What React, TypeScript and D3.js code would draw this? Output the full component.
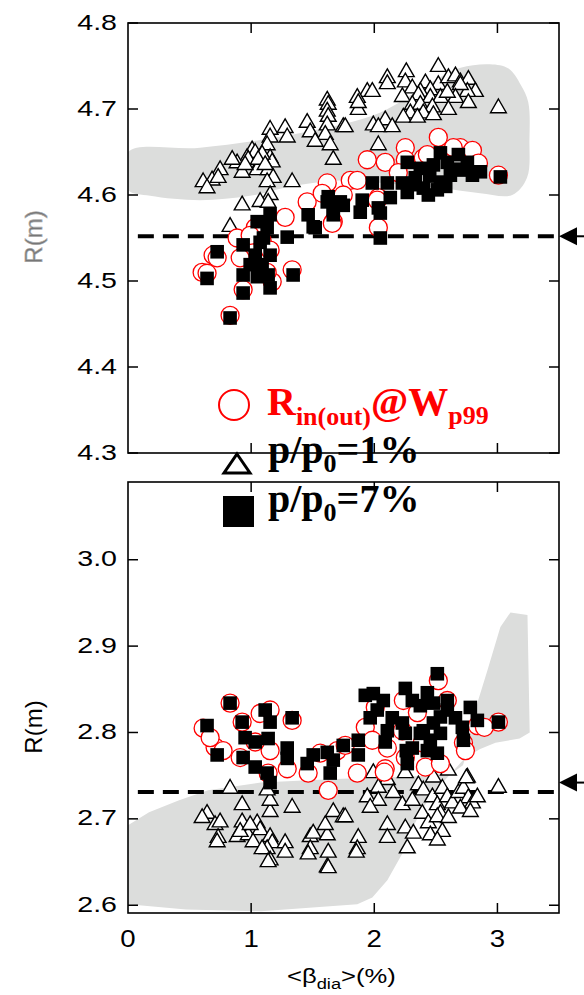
import * as d3 from 'd3'

type Pt = [number, number]

// axes
const xTicks = [0, 1, 2, 3]
const topTicks = [4.3, 4.4, 4.5, 4.6, 4.7, 4.8]
const botTicks = [2.6, 2.7, 2.8, 2.9, 3.0]

// dashed reference levels and arrow levels (R in m)
const topLevel = 4.552
const botLevel = 2.731
const topArrowLevel = 4.552
const botArrowLevel = 2.742

// grey operating regions
const topBand: Pt[] = [
  [0, 4.65], [0.585, 4.655], [1.4, 4.672], [2.05, 4.696], [2.46, 4.731], [2.7, 4.748],
  [2.94, 4.752], [3.09, 4.747], [3.19, 4.728], [3.25, 4.708], [3.26, 4.664], [3.24, 4.62],
  [3.12, 4.6], [2.86, 4.602], [2.54, 4.608], [2.21, 4.612], [1.72, 4.617], [1.32, 4.61],
  [0.99, 4.599], [0.585, 4.594], [0.18, 4.599], [0, 4.606],
]
const botBand: Pt[] = [
  [0, 2.6925], [0.171, 2.7077], [0.415, 2.7214], [0.65, 2.733], [1.081, 2.742], [1.683, 2.746],
  [2.374, 2.7497], [2.642, 2.754], [2.72, 2.762], [2.77, 2.785], [2.837, 2.834], [2.919, 2.872],
  [3.024, 2.922], [3.106, 2.939], [3.244, 2.936], [3.262, 2.8], [3.18, 2.793], [2.984, 2.788],
  [2.86, 2.781], [2.74, 2.771], [2.593, 2.748], [2.48, 2.73], [2.382, 2.71], [2.3, 2.686],
  [2.228, 2.66], [2.106, 2.629], [1.984, 2.609], [1.862, 2.601], [1.081, 2.593], [0.472, 2.595],
  [0, 2.601],
]

// p/p0 = 1%
const topTri: Pt[] = [
  [1.618, 4.71], [1.626, 4.705], [1.618, 4.697], [1.626, 4.691], [1.618, 4.681], [1.455, 4.684],
  [1.48, 4.673], [1.602, 4.67], [1.52, 4.662], [1.642, 4.658], [1.748, 4.679], [1.667, 4.641],
  [1.154, 4.676], [1.276, 4.678], [1.293, 4.667], [1.154, 4.667], [1.13, 4.658], [1.008, 4.652],
  [1.033, 4.649], [0.967, 4.643], [0.886, 4.637], [0.976, 4.641], [1.073, 4.637], [1.154, 4.643],
  [1.171, 4.638], [0.927, 4.626], [1.049, 4.629], [1.138, 4.629], [1.179, 4.62], [1.13, 4.615],
  [1.333, 4.615], [1.154, 4.6], [1.073, 4.592], [0.927, 4.588], [0.829, 4.563], [0.748, 4.629],
  [0.683, 4.617], [0.61, 4.615], [0.642, 4.608], [0.732, 4.62], [1.138, 4.591], [1.089, 4.647],
  [1.057, 4.641], [0.951, 4.635], [1.114, 4.635], [0.846, 4.641],
  [2.52, 4.749], [2.26, 4.743], [2.106, 4.736], [2.106, 4.729], [2.252, 4.731], [2.415, 4.73],
  [2.52, 4.728], [2.602, 4.736], [2.659, 4.738], [2.699, 4.731], [2.764, 4.734], [2.821, 4.72],
  [2.756, 4.72], [2.699, 4.728], [2.455, 4.722], [2.374, 4.72], [2.309, 4.724], [2.358, 4.716],
  [2.455, 4.713], [2.537, 4.713], [2.659, 4.713], [2.764, 4.707], [2.593, 4.719], [3.008, 4.701],
  [1.943, 4.72], [1.984, 4.72], [1.862, 4.713], [1.87, 4.699], [2.228, 4.714], [2.309, 4.705],
  [2.374, 4.705], [2.472, 4.702], [2.602, 4.699], [2.293, 4.695], [2.398, 4.695], [2.48, 4.693],
  [2.236, 4.69], [2.35, 4.69], [1.992, 4.681], [2.089, 4.687], [2.033, 4.679], [2.146, 4.679],
  [1.764, 4.679], [2.033, 4.658], [1.87, 4.707],
]
// R_in(out) @ W_p99
const topCirc: Pt[] = [
  [1.805, 4.617], [1.618, 4.614], [1.455, 4.592], [1.577, 4.602], [1.748, 4.6], [1.276, 4.574],
  [1.667, 4.569], [1.033, 4.562], [0.886, 4.55], [0.691, 4.53], [0.602, 4.51], [0.935, 4.49],
  [1.333, 4.513], [0.829, 4.46], [1.171, 4.499], [1.13, 4.51], [0.911, 4.527], [0.724, 4.527],
  [0.642, 4.509], [2.52, 4.667], [2.252, 4.655], [2.089, 4.638], [1.943, 4.641], [1.862, 4.617],
  [2.033, 4.597], [2.252, 4.641], [2.398, 4.643], [2.699, 4.655], [2.797, 4.652], [2.846, 4.637],
  [3.008, 4.623], [2.033, 4.562], [2.195, 4.626], [2.642, 4.655], [2.431, 4.647], [1.659, 4.567],
  [2.024, 4.594], [1.089, 4.547], [0.992, 4.553], [1.154, 4.536],
]
// p/p0 = 7%
const topSq: Pt[] = [
  [0.829, 4.457], [0.935, 4.486], [0.642, 4.503], [0.724, 4.534], [0.935, 4.507], [1.154, 4.492],
  [1.138, 4.507], [1.154, 4.53], [1.073, 4.545], [0.935, 4.542], [1.049, 4.569], [1.154, 4.577],
  [1.293, 4.551], [1.341, 4.507], [1.463, 4.577], [1.52, 4.562], [1.618, 4.592], [1.667, 4.577],
  [1.748, 4.588], [1.13, 4.562], [0.992, 4.519], [2.537, 4.649], [2.683, 4.647], [3.024, 4.621],
  [2.049, 4.55], [1.886, 4.58], [1.724, 4.592], [2.033, 4.585], [2.106, 4.614], [1.984, 4.614],
  [2.228, 4.614], [2.268, 4.638], [2.374, 4.631], [2.439, 4.6], [2.537, 4.615], [2.618, 4.623],
  [2.699, 4.629], [2.797, 4.623], [2.862, 4.627], [2.398, 4.608], [2.268, 4.603], [2.13, 4.597],
  [2.48, 4.635], [2.593, 4.638], [2.333, 4.62], [2.512, 4.606], [2.756, 4.638], [1.504, 4.563],
  [1.667, 4.583], [1.902, 4.594], [2.049, 4.579], [1.626, 4.598], [1.033, 4.53], [1.089, 4.519],
  [2.3, 4.612], [2.45, 4.622], [2.65, 4.63], [2.58, 4.61], [1.1, 4.55], [1.05, 4.505],
]

const botTri: Pt[] = [
  [0.829, 2.735], [0.927, 2.716], [0.642, 2.706], [0.602, 2.701], [0.707, 2.693], [0.748, 2.696],
  [0.732, 2.678], [0.724, 2.673], [0.927, 2.696], [0.886, 2.679], [0.976, 2.681], [1.049, 2.695],
  [1.073, 2.687], [1.154, 2.679], [1.171, 2.672], [1.13, 2.665], [1.154, 2.652], [1.276, 2.672],
  [1.276, 2.661], [1.154, 2.708], [1.154, 2.721], [1.13, 2.733], [1.333, 2.713], [1.48, 2.679],
  [1.504, 2.683], [1.618, 2.681], [1.602, 2.693], [1.667, 2.708], [1.748, 2.702], [1.48, 2.665],
  [1.463, 2.659], [1.626, 2.661], [1.618, 2.644], [1.016, 2.673], [0.911, 2.685], [0.992, 2.693],
  [1.089, 2.665], [1.992, 2.753], [2.106, 2.745], [2.252, 2.753], [2.48, 2.748], [2.602, 2.756],
  [2.756, 2.748], [3.008, 2.736], [2.033, 2.736], [1.943, 2.725], [2.033, 2.721], [1.967, 2.713],
  [2.154, 2.73], [2.228, 2.716], [2.309, 2.721], [2.358, 2.739], [2.398, 2.733], [2.472, 2.725],
  [2.512, 2.716], [2.553, 2.735], [2.593, 2.725], [2.634, 2.718], [2.683, 2.73], [2.724, 2.735],
  [2.764, 2.724], [2.797, 2.718], [2.837, 2.725], [2.699, 2.712], [2.78, 2.708], [2.537, 2.706],
  [2.39, 2.706], [2.439, 2.695], [2.512, 2.702], [2.602, 2.701], [1.764, 2.702], [2.106, 2.693],
  [2.252, 2.689], [2.317, 2.683], [2.455, 2.681], [2.553, 2.685], [2.512, 2.675], [2.106, 2.678],
  [1.87, 2.678], [1.862, 2.665], [2.268, 2.666], [1.138, 2.65], [1.626, 2.643], [1.854, 2.661],
  [2.748, 2.747],
]
const botCirc: Pt[] = [
  [0.829, 2.834], [0.61, 2.805], [0.707, 2.783], [0.927, 2.812], [1.073, 2.822], [1.154, 2.826],
  [1.333, 2.814], [0.911, 2.771], [1.154, 2.779], [1.293, 2.758], [1.138, 2.753], [1.463, 2.753],
  [1.626, 2.733], [1.699, 2.779], [1.561, 2.776], [0.772, 2.779], [0.667, 2.794], [2.52, 2.86],
  [2.236, 2.837], [2.008, 2.829], [1.927, 2.806], [1.984, 2.791], [2.106, 2.782], [1.862, 2.753],
  [2.089, 2.758], [2.252, 2.771], [2.228, 2.802], [2.39, 2.788], [2.415, 2.76], [2.537, 2.764],
  [2.724, 2.788], [2.837, 2.808], [3.008, 2.812], [2.593, 2.837], [2.74, 2.779], [2.35, 2.823],
  [2.081, 2.754], [2.894, 2.806], [1.033, 2.789], [1.764, 2.785],
]
const botSq: Pt[] = [
  [0.829, 2.834], [0.642, 2.808], [0.724, 2.774], [0.927, 2.812], [1.114, 2.826], [1.154, 2.812],
  [1.333, 2.817], [0.951, 2.794], [1.033, 2.789], [1.138, 2.793], [0.935, 2.771], [1.033, 2.76],
  [1.13, 2.753], [1.154, 2.742], [1.293, 2.782], [1.293, 2.77], [1.504, 2.774], [1.455, 2.764],
  [1.618, 2.777], [1.642, 2.753], [1.748, 2.785], [1.667, 2.768], [2.512, 2.868], [1.927, 2.843],
  [1.992, 2.845], [2.073, 2.837], [2.252, 2.851], [2.309, 2.837], [2.431, 2.846], [2.374, 2.831],
  [2.48, 2.834], [2.593, 2.837], [2.78, 2.829], [2.837, 2.814], [3.008, 2.812], [2.024, 2.826],
  [1.967, 2.817], [2.146, 2.817], [2.228, 2.811], [2.106, 2.802], [2.089, 2.789], [2.252, 2.799],
  [2.398, 2.802], [2.48, 2.811], [2.537, 2.818], [2.593, 2.826], [2.659, 2.817], [2.715, 2.806],
  [2.537, 2.799], [2.455, 2.791], [2.431, 2.779], [2.512, 2.776], [2.724, 2.791], [2.309, 2.782],
  [2.268, 2.764], [1.87, 2.791], [1.87, 2.774], [2.374, 2.799], [2.26, 2.779],
]

const W = 584
const H = 995
const sans = "'Liberation Sans', Arial, sans-serif"
const serif = "'Liberation Serif', 'Times New Roman', serif"
const red = '#ff0000'

const x = d3.scaleLinear().domain([0, 3.5]).range([128, 559])
const yTop = d3.scaleLinear().domain([4.3, 4.8]).range([453, 23])
const yBot = d3.scaleLinear().domain([2.591, 3.09]).range([913, 482])

const triPath = d3.symbol().type(d3.symbolTriangle).size(108)() || ''
const sqPath = d3.symbol().type(d3.symbolSquare).size(185)() || ''
const fmt = d3.format('.1f')

interface PanelProps {
  id: string
  y: d3.ScaleLinear<number, number>
  band: Pt[]
  curve: d3.CurveFactory
  tri: Pt[]
  circ: Pt[]
  sq: Pt[]
  level: number
  arrow: number
  ticks: number[]
}

function Panel({ id, y, band, curve, tri, circ, sq, level, arrow, ticks }: PanelProps) {
  const [x0, x1] = x.range()
  const [yb, yt] = y.range()
  const shape = d3
    .line<Pt>()
    .x(d => x(d[0]))
    .y(d => y(d[1]))
    .curve(curve)
  const ya = y(arrow)
  return (
    <g>
      <clipPath id={id}>
        <rect x={x0} y={yt} width={x1 - x0} height={yb - yt} />
      </clipPath>
      <g clipPath={`url(#${id})`}>
        <path d={shape(band) || ''} fill="#dcdddc" />
        <line x1={x(0.08)} x2={x1} y1={y(level)} y2={y(level)} stroke="#000" strokeWidth={4} strokeDasharray="16,9" />
        {tri.map((d, i) => (
          <path key={'t' + i} d={triPath} transform={`translate(${x(d[0])},${y(d[1])})`} fill="#fff" stroke="#000" strokeWidth={1.4} />
        ))}
        {circ.map((d, i) => (
          <circle key={'c' + i} cx={x(d[0])} cy={y(d[1])} r={9} fill="#fff" stroke={red} strokeWidth={1.3} />
        ))}
        {sq.map((d, i) => (
          <path key={'s' + i} d={sqPath} transform={`translate(${x(d[0])},${y(d[1])})`} fill="#000" />
        ))}
      </g>
      {/* frame */}
      <rect x={x0} y={yt} width={x1 - x0} height={yb - yt} fill="none" stroke="#000" strokeWidth={1.6} />
      {ticks.map(t => (
        <g key={t}>
          <line x1={x0} x2={x0 + 10} y1={y(t)} y2={y(t)} stroke="#000" strokeWidth={1.5} />
          <line x1={x1} x2={x1 - 10} y1={y(t)} y2={y(t)} stroke="#000" strokeWidth={1.5} />
          <text transform={`translate(117,${y(t) + 6.5}) scale(1.3,1)`} textAnchor="end" fontFamily={sans} fontSize={22} fill="#000">
            {fmt(t)}
          </text>
        </g>
      ))}
      {xTicks.slice(1).map(t => (
        <g key={'x' + t}>
          <line x1={x(t)} x2={x(t)} y1={yt} y2={yt + 10} stroke="#000" strokeWidth={1.5} />
          <line x1={x(t)} x2={x(t)} y1={yb} y2={yb - 10} stroke="#000" strokeWidth={1.5} />
        </g>
      ))}
      {/* arrow on the right */}
      <path d={`M${x1},${ya} L${x1 + 18},${ya - 9} L${x1 + 18},${ya + 9} Z`} fill="#000" />
      <line x1={x1 + 18} x2={W} y1={ya} y2={ya} stroke="#000" strokeWidth={2} />
    </g>
  )
}

export default function App() {
  return (
    <svg width={W} height={H} style={{ position: 'absolute', left: 0, top: 0, background: '#fff' }}>
      <rect width={W} height={H} fill="#fff" />
      <Panel id="clipTop" y={yTop} band={topBand} curve={d3.curveCatmullRomClosed.alpha(0.5)} tri={topTri} circ={topCirc} sq={topSq} level={topLevel} arrow={topArrowLevel} ticks={topTicks} />
      <Panel id="clipBot" y={yBot} band={botBand} curve={d3.curveLinearClosed} tri={botTri} circ={botCirc} sq={botSq} level={botLevel} arrow={botArrowLevel} ticks={botTicks} />

      {/* x tick labels under lower panel */}
      {xTicks.map(t => (
        <text key={t} transform={`translate(${x(t)},947) scale(1.15,1)`} textAnchor="middle" fontFamily={sans} fontSize={24} fill="#000">
          {t}
        </text>
      ))}
      <text transform="translate(287,983) scale(1.22,1)" fontFamily={sans} fontSize={21} fill="#000">
        {'<β'}
        <tspan fontSize={15} dy={6}>dia</tspan>
        <tspan dy={-6}>{'>(%)'}</tspan>
      </text>

      {/* y labels */}
      <text transform="translate(42,237) rotate(-90)" textAnchor="middle" fontFamily={sans} fontSize={24} fill="#777" stroke="#aaa" strokeWidth={0.6}>
        R(m)
      </text>
      <text transform="translate(42,727) rotate(-90)" textAnchor="middle" fontFamily={sans} fontSize={24} fill="#000">
        R(m)
      </text>

      {/* legend */}
      <g fontFamily={serif} fontWeight="bold" fontSize={40}>
        <circle cx={234} cy={405} r={15} fill="none" stroke={red} strokeWidth={2} />
        <text x={267} y={415} fill={red}>
          R<tspan fontSize={26} dy={10}>in(out)</tspan>
          <tspan dy={-10}>@W</tspan>
          <tspan fontSize={26} dy={9}>p99</tspan>
        </text>
        <path d="M237,454 L250,473 L224,473 Z" fill="#fff" stroke="#000" strokeWidth={3} />
        <text x={268} y={463} fill="#000">
          p/p<tspan fontSize={26} dy={9}>0</tspan>
          <tspan dy={-9}>=1%</tspan>
        </text>
        <rect x={223} y={496} width={31} height={31} fill="#000" />
        <text x={268} y={512} fill="#000">
          p/p<tspan fontSize={26} dy={9}>0</tspan>
          <tspan dy={-9}>=7%</tspan>
        </text>
      </g>
    </svg>
  )
}
